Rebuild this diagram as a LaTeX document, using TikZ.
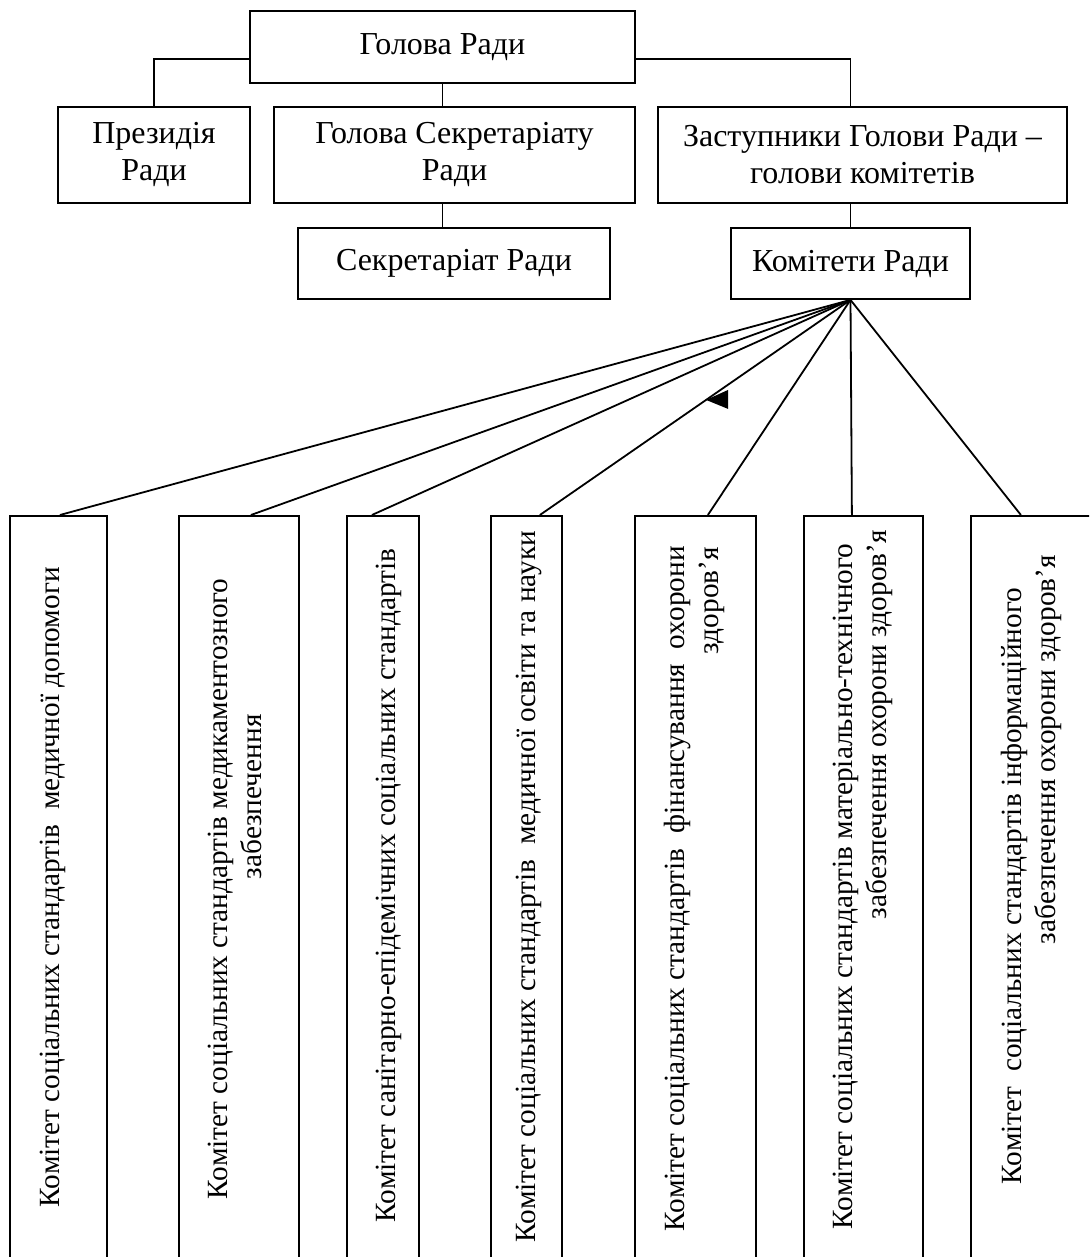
\documentclass[tikz,border=0pt]{standalone}
\usepackage{fontspec}
\setmainfont{Liberation Serif}
\begin{document}
\begin{tikzpicture}[x=1pt,y=-1pt,line width=1.8pt,
  box/.style={draw,rectangle,inner sep=0pt,align=center,font=\fontsize{32}{37}\selectfont},
  cbox/.style={draw,rectangle,inner sep=0pt,anchor=north west},
  vlbl/.style={font=\fontsize{29.3}{34}\selectfont,rotate=90,inner sep=0pt,anchor=base west}]
\useasboundingbox (0,0) rectangle (1089,1257);
\clip (0,0) rectangle (1089,1257);
% upper hierarchy
\node[box,minimum width=385pt,minimum height=72pt] (top) at (442.5,47) {Голова Ради};
\node[box,minimum width=192pt,minimum height=96pt] (prez) at (154,155) {Президія\\Ради};
\node[box,minimum width=361pt,minimum height=96pt] (gs) at (454.5,155) {Голова Секретаріату\\Ради};
\node[box,minimum width=409pt,minimum height=96pt] (zast) at (862.5,155) {Заступники Голови Ради –\\голови комітетів};
\node[box,minimum width=312pt,minimum height=71pt] (sec) at (454,263.5) {Секретаріат Ради};
\node[box,minimum width=239pt,minimum height=71pt] (kom) at (850.5,263.5) {Комітети Ради};
\draw ([yshift=-12pt]top.west) -| (prez.north);
\draw ([yshift=-12pt]top.east) -| (kom.north |- zast.north);
\draw (top.south) -- (top.south |- gs.north);
\draw (top.south |- gs.south) -- (top.south |- sec.north);
\draw (kom.north |- zast.south) -- (kom.north);
% committee boxes
\node[cbox,minimum width=97pt,minimum height=750pt] (c1) at (9,515) {};
\node[cbox,minimum width=120pt,minimum height=750pt] (c2) at (178,515) {};
\node[cbox,minimum width=72pt,minimum height=750pt] (c3) at (346,515) {};
\node[cbox,minimum width=71pt,minimum height=750pt] (c4) at (490,515) {};
\node[cbox,minimum width=121pt,minimum height=750pt] (c5) at (634,515) {};
\node[cbox,minimum width=119pt,minimum height=750pt] (c6) at (803,515) {};
\node[cbox,minimum width=125pt,minimum height=750pt] (c7) at (970,515) {};
\coordinate (e1) at ([xshift=1.5pt]c1.north);
\coordinate (e2) at ([xshift=12pt]c2.north);
\coordinate (e3) at ([xshift=-11pt]c3.north);
\coordinate (e4) at ([xshift=13.5pt]c4.north);
\coordinate (e5) at ([xshift=12.5pt]c5.north);
\coordinate (e6) at ([xshift=-11.5pt]c6.north);
\coordinate (e7) at ([xshift=-12.5pt]c7.north);
\foreach \e in {e1,e2,e3,e4,e5,e6,e7} \draw (kom.south) -- (\e);
\path (kom.south) -- (e4) coordinate[pos=0.465] (am);
\fill (am) -- ++(22,-10) -- ++(0,19) -- cycle;
% vertical labels
\node[vlbl] (t1) at (59,1208) {Комітет соціальних стандартів\ \ медичної допомоги};
\node[vlbl] (t2a) at (227.5,1200) {Комітет соціальних стандартів медикаментозного};
\node[vlbl] (t2b) at (261.5,880) {забезпечення};
\node[vlbl] (t3) at (395,1223) {Комітет санітарно-епідемічних соціальних стандартів};
\node[vlbl] (t4) at (535,1243) {Комітет соціальних стандартів\ \ медичної освіти та науки};
\node[vlbl] (t5a) at (684,1232) {Комітет соціальних стандартів\ \ фінансування\ \ охорони};
\node[vlbl] (t5b) at (718,655) {здоров’я};
\node[vlbl] (t6a) at (852,1230) {Комітет соціальних стандартів матеріально-технічного};
\node[vlbl] (t6b) at (886,920) {забезпечення охорони здоров’я};
\node[vlbl] (t7a) at (1021,1185) {Комітет\ \ соціальних стандартів інформаційного};
\node[vlbl] (t7b) at (1055,945) {забезпечення охорони здоров’я};
\end{tikzpicture}
\end{document}
